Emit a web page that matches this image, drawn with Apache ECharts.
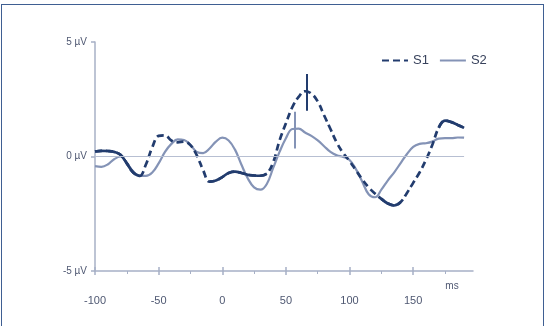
<!DOCTYPE html>
<html>
<head>
<meta charset="utf-8">
<script src="https://cdn.jsdelivr.net/npm/echarts@6/dist/echarts.min.js"></script>
<style>
  html, body { margin: 0; padding: 0; background: #fff; }
  #wrap { position: relative; width: 548px; height: 326px; overflow: hidden; }
  #frame { position: absolute; left: 1px; top: 4px; width: 543px; height: 340px;
           border: 1.5px solid #3f5f92; border-bottom: none; box-sizing: border-box; }
  #chart { position: absolute; left: 0; top: 0; width: 548px; height: 326px; }
</style>
</head>
<body>
<div id="wrap">
  <div id="frame"></div>
  <div id="chart"></div>
</div>
<script>
// Time points (ms) of the averaged waveforms
const times = [-100,-95,-90,-85,-80,-75,-70,-65,-60,-55,-50,-45,-40,-35,-30,-25,-20,-15,-10,-5,
  0,5,10,15,20,25,30,35,40,45,50,55,60,65,70,75,80,85,90,95,
  100,105,110,115,120,125,130,135,140,145,150,155,160,165,170,175,180,185,190];

// Amplitudes (µV)
const s1 = [0.22,0.25,0.24,0.2,0.08,-0.3,-0.7,-0.85,-0.35,0.4,0.9,0.92,0.7,0.62,0.65,0.5,0.05,-0.6,-1.1,-1.05,
  -0.9,-0.72,-0.66,-0.72,-0.8,-0.83,-0.84,-0.75,-0.25,0.7,1.45,2.15,2.6,2.85,2.75,2.4,1.8,1.2,0.6,0.15,
  -0.2,-0.6,-1.0,-1.35,-1.62,-1.85,-2.05,-2.14,-2.0,-1.6,-1.15,-0.7,-0.15,0.5,1.25,1.57,1.5,1.38,1.25];
const s2 = [-0.42,-0.45,-0.35,-0.12,0.0,-0.28,-0.65,-0.85,-0.85,-0.7,-0.3,0.2,0.55,0.75,0.72,0.5,0.2,0.15,0.35,0.65,
  0.82,0.7,0.3,-0.35,-0.95,-1.35,-1.45,-1.2,-0.5,0.2,0.8,1.2,1.22,1.05,0.9,0.7,0.45,0.2,0.05,-0.02,
  -0.15,-0.55,-1.1,-1.65,-1.78,-1.45,-1.05,-0.7,-0.3,0.1,0.42,0.55,0.58,0.65,0.78,0.8,0.8,0.83,0.82];

// Peak markers: [latency ms, low µV, high µV]
const peakS1 = [66.5, 2.0, 3.6];
const peakS2 = [57, 0.35, 1.95];

// Stretches where the S1 trace is drawn unbroken
const s1SolidSpans = [[-100, -65], [-10, 35], [125, 140], [170, 190]];

const xTicks = [-100, -50, 0, 50, 100, 150];
const xMinorTicks = [-75, -25, 25, 75, 125, 175];
const yTicks = [-5, 0, 5];

const navy = '#223c6e';
const grey = '#8493b6';
const axisCol = '#a7b0c6';
const textCol = '#4f5872';

const s1Data = times.map((t, i) => [t, s1[i]]);
const s2Data = times.map((t, i) => [t, s2[i]]);
const s1Solid = times.map((t, i) =>
  s1SolidSpans.some(([a, b]) => t >= a && t <= b) ? [t, s1[i]] : [t, '-']);

const xBase = { type: 'value', min: -100, max: 197, position: 'bottom', splitLine: { show: false } };

const chart = echarts.init(document.getElementById('chart'), null, { renderer: 'canvas' });
chart.setOption({
  animation: false,
  grid: { left: 95, right: 75, top: 42, bottom: 55 },
  legend: {
    data: ['S1', 'S2'],
    left: 376, top: 49,
    itemWidth: 26, itemHeight: 14, itemGap: 10,
    itemStyle: { opacity: 0, borderWidth: 0 },
    textStyle: { fontFamily: 'Liberation Sans', fontSize: 13, color: '#38425c' }
  },
  xAxis: [
    Object.assign({}, xBase, {
      name: 'ms', nameLocation: 'end', nameGap: -21,
      nameTextStyle: { fontFamily: 'Liberation Sans', fontSize: 10, color: textCol,
                       align: 'center', verticalAlign: 'top', padding: [10, 0, 0, 0] },
      axisLine: { onZero: false, lineStyle: { color: axisCol, width: 1.5 } },
      axisTick: { show: true, length: 4, customValues: xTicks, lineStyle: { color: axisCol, width: 1.5 } },
      axisLabel: { customValues: xTicks, margin: 24, fontFamily: 'Liberation Sans', fontSize: 11, color: textCol }
    }),
    Object.assign({}, xBase, {
      axisLine: { show: false, onZero: false },
      axisTick: { show: true, inside: true, length: 4, customValues: xTicks, lineStyle: { color: axisCol, width: 1.5 } },
      axisLabel: { show: false }
    }),
    Object.assign({}, xBase, {
      axisLine: { show: false, onZero: false },
      axisTick: { show: true, length: 3, customValues: xMinorTicks, lineStyle: { color: axisCol, width: 1 } },
      axisLabel: { show: false }
    })
  ],
  yAxis: {
    type: 'value', min: -5, max: 5, interval: 5,
    splitLine: { show: false },
    axisLine: { show: true, onZero: false, lineStyle: { color: axisCol, width: 1.5 } },
    axisTick: { show: true, length: 4, lineStyle: { color: axisCol, width: 1.5 } },
    axisLabel: { margin: 8, fontFamily: 'Liberation Sans', fontSize: 10, color: textCol,
                 customValues: yTicks, formatter: v => v + ' µV' }
  },
  series: [
    {
      name: 'baseline', type: 'line', data: [], z: 1, silent: true,
      markLine: {
        silent: true, symbol: 'none', label: { show: false },
        lineStyle: { color: '#b7bfd2', width: 1, type: 'solid' },
        data: [[{ coord: [times[0], 0] }, { coord: [times[times.length - 1], 0] }]]
      }
    },
    {
      name: 'S2', type: 'line', data: s2Data, smooth: 0.4, showSymbol: false, symbol: 'none', z: 2,
      lineStyle: { color: grey, width: 2.2 }, itemStyle: { color: grey },
      markLine: {
        silent: true, symbol: 'none', label: { show: false },
        lineStyle: { color: grey, width: 2, type: 'solid' },
        data: [[{ coord: [peakS2[0], peakS2[1]] }, { coord: [peakS2[0], peakS2[2]] }]]
      }
    },
    {
      name: 'S1', type: 'line', data: s1Data, smooth: 0.4, showSymbol: false, symbol: 'none', z: 3,
      lineStyle: { color: navy, width: 2.7, type: [7, 4] }, itemStyle: { color: navy },
      markLine: {
        silent: true, symbol: 'none', label: { show: false },
        lineStyle: { color: navy, width: 2, type: 'solid' },
        data: [[{ coord: [peakS1[0], peakS1[1]] }, { coord: [peakS1[0], peakS1[2]] }]]
      }
    },
    {
      name: 'S1 unbroken', type: 'line', data: s1Solid, smooth: 0.4, showSymbol: false, symbol: 'none', z: 3,
      connectNulls: false,
      lineStyle: { color: navy, width: 2.7 }, itemStyle: { color: navy }
    }
  ]
});
</script>
</body>
</html>
